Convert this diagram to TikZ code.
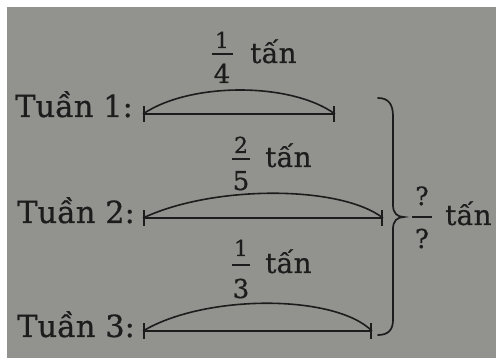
\documentclass[tikz,border=0pt]{standalone}
\usepackage{fontspec}
\setmainfont{DejaVu Serif}[FakeBold=0.6]
\usetikzlibrary{arrows.meta}
\definecolor{paper}{RGB}{146,146,143}
\definecolor{ink}{RGB}{28,28,28}
\tikzset{
  lbl/.style={anchor=base west,inner sep=0pt,text=ink,font=\fontsize{30.5}{34}\selectfont},
  unit/.style={anchor=base west,inner sep=0pt,text=ink,font=\fontsize{28}{32}\selectfont},
  numr/.style={anchor=base,inner sep=0pt,text=ink,font=\fontsize{22}{26}\selectfont},
  denr/.style={anchor=base,inner sep=0pt,text=ink,font=\fontsize{26}{30}\selectfont},
  fbar/.style={draw=ink,line width=1.3pt},
  seg/.style={draw=ink,line width=1.6pt,{Bar[width=16pt]}-{Bar[width=16pt]}},
  arcline/.style={draw=ink,line width=1.6pt},
  bracel/.style={draw=ink,line width=1.7pt,line cap=round}
}
\begin{document}
\begin{tikzpicture}[x=1pt,y=-1pt]
\useasboundingbox (0,0) rectangle (496,358);
\fill[white] (0,0) rectangle (496,358);
\fill[paper] (7,7) rectangle (496,358);

% labels
\node[lbl] (t1) at (15,117) {Tuần 1:};
\node[lbl] (t2) at (17,223) {Tuần 2:};
\node[lbl] (t3) at (17,337) {Tuần 3:};

% segment ends
\coordinate (a1) at (143,114);
\coordinate (b1) at (335,114);
\coordinate (a2) at (143,218);
\coordinate (b2) at (383,218);
\coordinate (a3) at (143,331);
\coordinate (b3) at (372,331);

\draw[seg] (a1) -- (b1);
\draw[seg] (a2) -- (b2);
\draw[seg] (a3) -- (b3);

\draw[arcline] (a1) .. controls (190,82) and (291,82) .. (b1);
\draw[arcline] (a2) .. controls (213,185) and (340,185) .. (b2);
\draw[arcline] (a3) .. controls (205,294) and (335,294) .. (b3);

% fraction 1/4
\node[numr] (n1) at (222,48) {1};
\node[denr] (d1) at (222,83) {4};
\draw[fbar] (212,54) -- (233,54);
\node[unit] (u1) at (250,63) {tấn};

% fraction 2/5
\node[numr] (n2) at (241,153) {2};
\node[denr] (d2) at (241,190) {5};
\draw[fbar] (232,159) -- (250,159);
\node[unit] (u2) at (265,167) {tấn};

% fraction 1/3
\node[numr] (n3) at (241,256) {1};
\node[denr] (d3) at (241,298) {3};
\draw[fbar] (232,265) -- (250,265);
\node[unit] (u3) at (265,273) {tấn};

% brace
\coordinate (bt) at (378,98);
\coordinate (bm) at (404,217);
\coordinate (bb) at (378,335);
\draw[bracel] (bt) .. controls (389,98) and (393,105) .. (393,116)
  -- (393,205) .. controls (393,213) and (397,217) .. (bm)
  .. controls (397,217) and (393,221) .. (393,229)
  -- (393,320) .. controls (393,330) and (388,335) .. (bb);

% total ?/?
\node[numr,font=\fontsize{25}{29}\selectfont] (nq) at (422,205) {?};
\node[denr] (dq) at (422,248) {?};
\draw[fbar] (412,217) -- (432,217);
\node[unit] (uq) at (445,225) {tấn};
\end{tikzpicture}
\end{document}
